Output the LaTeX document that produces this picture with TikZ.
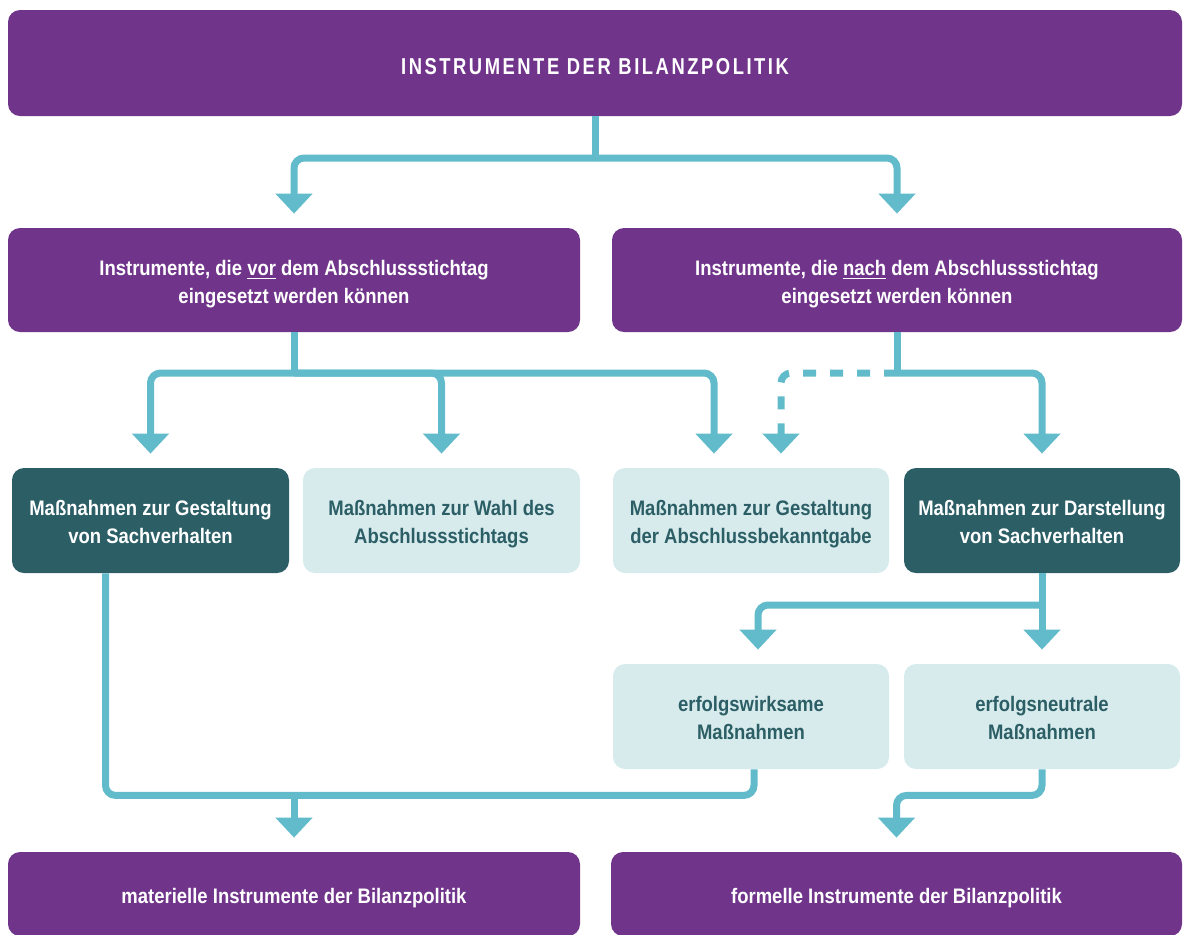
\documentclass[tikz,border=0pt]{standalone}
\usepackage{fontspec}
\setmainfont{Liberation Sans}[FakeStretch=0.88]
\newfontfamily\titlefont{Liberation Sans}[FakeStretch=0.8,LetterSpace=11]
\usetikzlibrary{arrows.meta,calc,positioning}
\definecolor{bilpurple}{HTML}{70358A}
\definecolor{bildark}{HTML}{2C5E66}
\definecolor{billight}{HTML}{D7EBED}
\definecolor{billine}{HTML}{62BBCB}
\newcommand{\boxstrut}{\rule{0pt}{11.7pt}}
\newcommand{\pairstrut}{\rule{0pt}{25.7pt}}
\newcommand{\depthstrut}{\rule[-2.4pt]{0pt}{0pt}}
\tikzset{
  cellbox/.style={rectangle, rounded corners=6pt, inner sep=0pt, align=center,
    font=\fontsize{10.5}{14}\selectfont\bfseries,
    execute at begin node=\boxstrut},
  twoline/.style={execute at begin node=\pairstrut},
  purplebox/.style={cellbox, fill=bilpurple, text=white},
  darkbox/.style={cellbox, twoline, execute at end node=\depthstrut,
    fill=bildark, text=white},
  lightbox/.style={cellbox, twoline, execute at end node=\depthstrut,
    fill=billight, text=bildark},
  conn/.style={draw=billine, line width=3.5pt, rounded corners=5pt},
  arr/.style={conn, -{Triangle[width=18pt,length=10pt]}, shorten >=7pt}
}

\begin{document}
\begin{tikzpicture}[x=0.5pt,y=-0.5pt]
\useasboundingbox (0,0) rectangle (1184,934);

% boxes
\node[purplebox, minimum width=587pt, minimum height=53pt] (title) at (595,63)
  {\titlefont\fontsize{11.5}{14}\selectfont INSTRUMENTE DER BILANZPOLITIK};

\node[purplebox, twoline, minimum width=286pt, minimum height=52pt] (vor) at (294,280)
  {Instrumente, die \underline{vor} dem Abschlussstichtag\\eingesetzt werden können};
\node[purplebox, twoline, minimum width=285pt, minimum height=52pt] (nach) at (897,280)
  {Instrumente, die \underline{nach} dem Abschlussstichtag\\eingesetzt werden können};

\node[darkbox, minimum width=138.5pt, minimum height=52.5pt] (gest) at (150.5,520.5)
  {Maßnahmen zur Gestaltung\\von Sachverhalten};
\node[lightbox, minimum width=138.5pt, minimum height=52.5pt] (wahl) at (441.5,520.5)
  {Maßnahmen zur Wahl des\\Abschlussstichtags};
\node[lightbox, minimum width=138pt, minimum height=52.5pt] (bekannt) at (751,520.5)
  {Maßnahmen zur Gestaltung\\der Abschlussbekanntgabe};
\node[darkbox, minimum width=138pt, minimum height=52.5pt] (darst) at (1042,520.5)
  {Maßnahmen zur Darstellung\\von Sachverhalten};

\node[lightbox, minimum width=138pt, minimum height=52.5pt] (wirk) at (751,716.5)
  {erfolgswirksame\\Maßnahmen};
\node[lightbox, minimum width=138pt, minimum height=52.5pt] (neutral) at (1042,716.5)
  {erfolgsneutrale\\Maßnahmen};

\node[purplebox, minimum width=286pt, minimum height=42pt] (mat) at (294,894)
  {materielle Instrumente der Bilanzpolitik};
\node[purplebox, minimum width=285.5pt, minimum height=42pt] (form) at (896.5,894)
  {formelle Instrumente der Bilanzpolitik};

% connectors
\coordinate (split1) at (595,158);
\draw[conn] (title.south) -- (split1);
\draw[arr] (split1) -| (vor.north);
\draw[arr] (split1) -| (nach.north);

\coordinate (split2) at (294,373);
\draw[conn] (vor.south) -- (split2);
\draw[arr] (split2) -| (gest.north);
\draw[arr] (split2) -| (wahl.north);
\draw[arr] (split2) -| ($(bekannt.north)+(-37,0)$);

\coordinate (split3) at (897,373);
\draw[conn] (nach.south) -- (split3);
\draw[arr] (split3) -| (darst.north);
\draw[arr, dash pattern=on 6.5pt off 7pt] (split3) -| ($(bekannt.north)+(30,0)$);

\coordinate (split4) at (1042,605);
\draw[conn] (darst.south) -- (split4);
\draw[arr] (split4) -| ($(wirk.north)+(7,0)$);
\draw[arr] (split4) -- (neutral.north);

\coordinate (join1) at (294,795);
\draw[conn] ($(gest.south)+(-45,0)$) |- ($(wirk.south)+(3,26)$) -- ($(wirk.south)+(3,0)$);
\draw[arr] (join1) -- (mat.north);
\draw[arr] (neutral.south) -- ++(0,26) -| (form.north);
\end{tikzpicture}
\end{document}
